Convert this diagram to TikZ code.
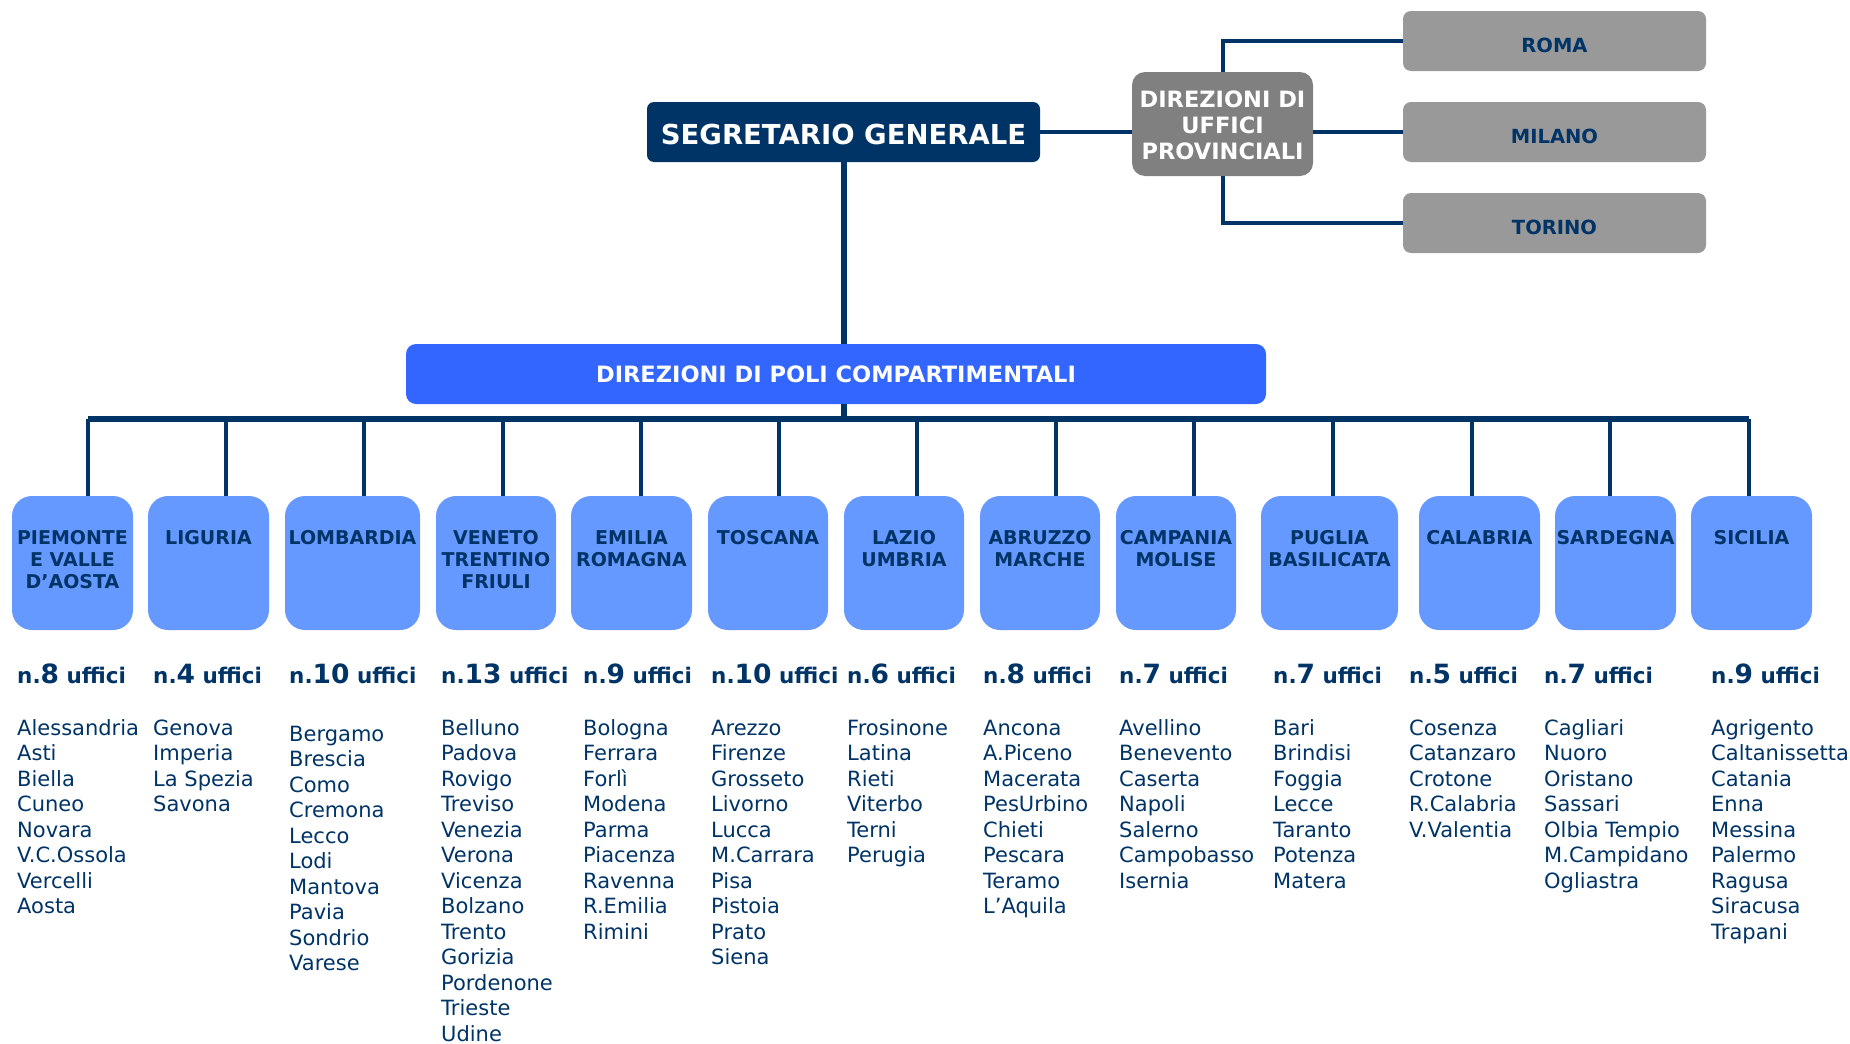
\documentclass[tikz,border=0pt]{standalone}
\usepackage{fontspec}
\setmainfont{DejaVu Sans}
\usetikzlibrary{positioning}
\definecolor{navy}{RGB}{0,51,102}
\definecolor{regblue}{RGB}{102,153,255}
\definecolor{poliblue}{RGB}{51,102,255}
\definecolor{provgray}{RGB}{128,128,128}
\definecolor{citygray}{RGB}{153,153,153}
\tikzset{
  topbox/.style={rounded corners=7pt,fill=navy,text=white,inner sep=0pt,minimum width=393pt,minimum height=60pt,text height=24pt,text depth=0pt,font=\fontsize{27.5}{32}\selectfont\bfseries},
  provbox/.style={rounded corners=13pt,fill=provgray,text=white,align=center,inner sep=0pt,minimum width=181pt,minimum height=104pt,font=\fontsize{22.5}{26}\selectfont\bfseries},
  citybox/.style={rounded corners=8pt,fill=citygray,text=navy,inner sep=0pt,minimum width=303pt,minimum height=60pt,text height=22pt,text depth=0pt,font=\fontsize{19.5}{23}\selectfont\bfseries},
  polibox/.style={rounded corners=10pt,fill=poliblue,text=white,inner sep=0pt,minimum width=860pt,minimum height=60pt,font=\fontsize{22.5}{26}\selectfont\bfseries},
  regbox/.style={rounded corners=20pt,fill=regblue,inner sep=0pt,minimum height=134pt},
  reglab/.style={text=navy,align=center,inner sep=0pt,font=\fontsize{19}{22}\selectfont\bfseries},
  numlab/.style={text=navy,anchor=base west,inner sep=0pt,font=\fontsize{21.5}{25}\selectfont\bfseries},
  towns/.style={text=navy,align=left,anchor=north west,inner sep=0pt,font=\fontsize{21}{25.5}\selectfont},
  wire/.style={navy,line width=4pt},
}
% one polo: index, box centre x, box width, drop x, text x, name, offices, first baseline, towns
\newcommand\polo[9]{%
  \node[regbox,minimum width=#3pt] (r#1) at (#2,563) {};
  \node[reglab,below=34pt of r#1.north] (l#1) {\rule{0pt}{14pt}#6};
  \coordinate (d#1) at (#4,419);
  \draw[wire,line width=4.5pt] (d#1) -- (d#1 |- r#1.north);
  \node[numlab] (n#1) at (#5,683) {n.{\fontsize{26.5}{30}\selectfont #7} uffici};
  \node[towns] (t#1) at (#5,#8-16) {\rule{0pt}{16pt}#9};
}

\begin{document}
\begin{tikzpicture}[x=1pt,y=-1pt]
  \useasboundingbox (0,0) rectangle (1850,1044);
  % vertice e uffici provinciali
  \node[topbox] (seg) at (843.5,132) {SEGRETARIO GENERALE};
  \node[provbox] (prov) at (1222.5,124) {\rule{0pt}{19pt}DIREZIONI DI\\UFFICI\\PROVINCIALI};
  \node[citybox] (roma) at (1554.5,41) {ROMA};
  \node[citybox] (milano) at (1554.5,132) {MILANO};
  \node[citybox] (torino) at (1554.5,223) {TORINO};
  \node[polibox] (poli) at (836,374) {DIREZIONI DI POLI COMPARTIMENTALI\hspace{14pt}};
  \draw[wire] (seg.east) -- (seg.east -| prov.west);
  \draw[wire] (prov.north) |- (roma.west);
  \draw[wire] (milano.west -| prov.east) -- (milano.west);
  \draw[wire] (prov.south) |- (torino.west);
  \coordinate (bus) at (844,419);
  \draw[wire,line width=6pt] (seg.south) -- (seg.south |- poli.north);
  \draw[wire,line width=6pt] (seg.south |- poli.south) -- (seg.south |- bus);
  % poli compartimentali
  \polo{1}{72.5}{121}{88}{17}{PIEMONTE\\E VALLE\\D’AOSTA}{8}{735}{Alessandria\\Asti\\Biella\\Cuneo\\Novara\\V.C.Ossola\\Vercelli\\Aosta}
  \polo{2}{208.5}{121}{226}{153}{LIGURIA}{4}{735}{Genova\\Imperia\\La Spezia\\Savona}
  \polo{3}{352.5}{135}{364}{289}{LOMBARDIA}{10}{741}{Bergamo\\Brescia\\Como\\Cremona\\Lecco\\Lodi\\Mantova\\Pavia\\Sondrio\\Varese}
  \polo{4}{496}{120}{503}{441}{VENETO\\TRENTINO\\FRIULI}{13}{735}{Belluno\\Padova\\Rovigo\\Treviso\\Venezia\\Verona\\Vicenza\\Bolzano\\Trento\\Gorizia\\Pordenone\\Trieste\\Udine}
  \polo{5}{631.5}{121}{641}{583}{EMILIA\\ROMAGNA}{9}{735}{Bologna\\Ferrara\\Forlì\\Modena\\Parma\\Piacenza\\Ravenna\\R.Emilia\\Rimini}
  \polo{6}{768}{120}{779}{711}{TOSCANA}{10}{735}{Arezzo\\Firenze\\Grosseto\\Livorno\\Lucca\\M.Carrara\\Pisa\\Pistoia\\Prato\\Siena}
  \polo{7}{904}{120}{917}{847}{LAZIO\\UMBRIA}{6}{735}{Frosinone\\Latina\\Rieti\\Viterbo\\Terni\\Perugia}
  \polo{8}{1040}{120}{1056}{983}{ABRUZZO\\MARCHE}{8}{735}{Ancona\\A.Piceno\\Macerata\\PesUrbino\\Chieti\\Pescara\\Teramo\\L’Aquila}
  \polo{9}{1176}{120}{1194}{1119}{CAMPANIA\\MOLISE}{7}{735}{Avellino\\Benevento\\Caserta\\Napoli\\Salerno\\Campobasso\\Isernia}
  \polo{10}{1329.5}{137}{1333}{1273}{PUGLIA\\BASILICATA}{7}{735}{Bari\\Brindisi\\Foggia\\Lecce\\Taranto\\Potenza\\Matera}
  \polo{11}{1479.5}{121}{1472}{1409}{CALABRIA}{5}{735}{Cosenza\\Catanzaro\\Crotone\\R.Calabria\\V.Valentia}
  \polo{12}{1615.5}{121}{1610}{1544}{SARDEGNA}{7}{735}{Cagliari\\Nuoro\\Oristano\\Sassari\\Olbia Tempio\\M.Campidano\\Ogliastra}
  \polo{13}{1751.5}{121}{1749}{1711}{SICILIA}{9}{735}{Agrigento\\Caltanissetta\\Catania\\Enna\\Messina\\Palermo\\Ragusa\\Siracusa\\Trapani}
  \draw[wire,line width=5.5pt] (d1) -- (d13);
\end{tikzpicture}
\end{document}
